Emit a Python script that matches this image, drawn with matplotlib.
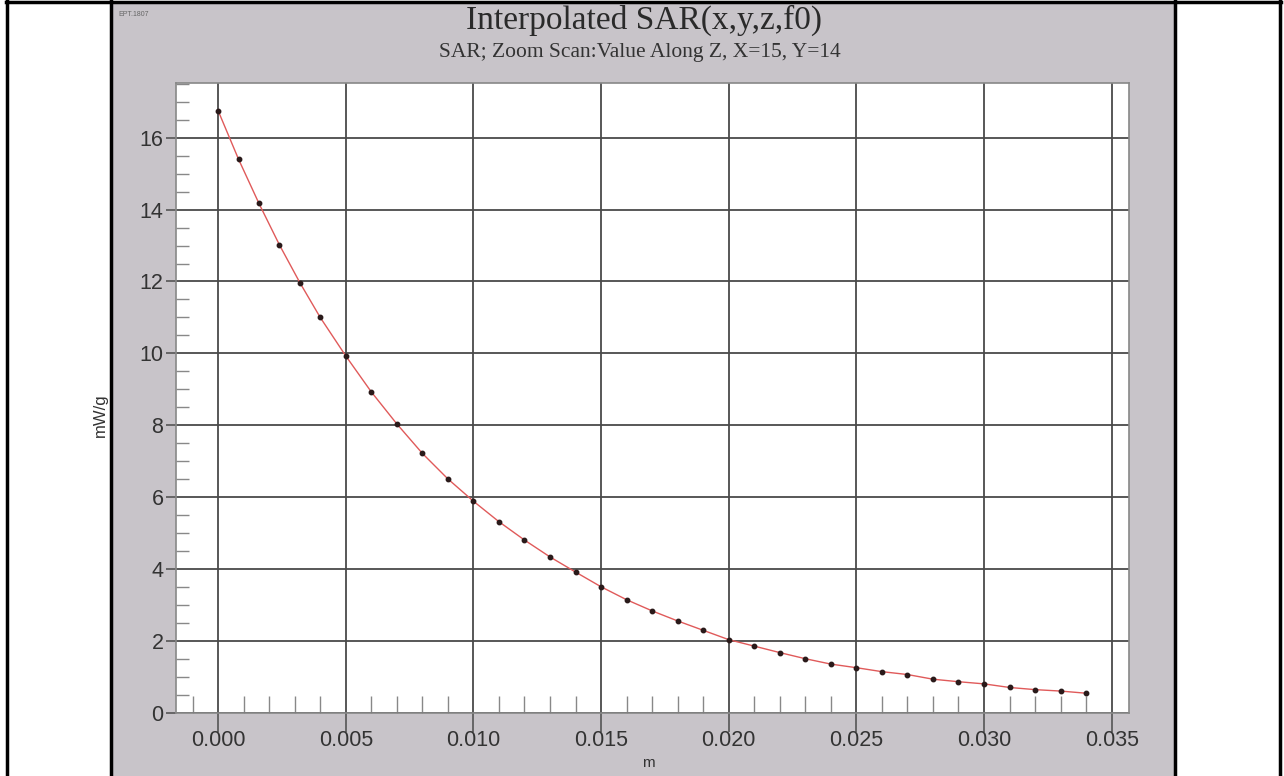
import numpy as np
import matplotlib
matplotlib.use("Agg")
import matplotlib.pyplot as plt
from matplotlib.patches import Rectangle
from matplotlib.lines import Line2D
from matplotlib.ticker import MultipleLocator, FormatStrFormatter

# depth along Z (m) and interpolated SAR (mW/g)
z_m = [0.0, 0.0008, 0.0016, 0.0024, 0.0032, 0.004,
       0.005, 0.006, 0.007, 0.008, 0.009, 0.010, 0.011, 0.012, 0.013, 0.014,
       0.015, 0.016, 0.017, 0.018, 0.019, 0.020, 0.021, 0.022, 0.023, 0.024,
       0.025, 0.026, 0.027, 0.028, 0.029, 0.030, 0.031, 0.032, 0.033, 0.034]
sar = [16.75, 15.40, 14.17, 13.02, 11.97, 11.00,
       9.93, 8.93, 8.04, 7.22, 6.51, 5.89, 5.32, 4.81, 4.34, 3.92,
       3.51, 3.15, 2.84, 2.56, 2.30, 2.04, 1.86, 1.68, 1.51, 1.36,
       1.26, 1.15, 1.07, 0.94, 0.87, 0.81, 0.71, 0.65, 0.61, 0.55]
x_ticks = [0.000, 0.005, 0.010, 0.015, 0.020, 0.025, 0.030, 0.035]
y_ticks = [0, 2, 4, 6, 8, 10, 12, 14, 16]

W, H = 1284, 776
fig = plt.figure(figsize=(W / 100, H / 100), dpi=100, facecolor="white")

def fx(px):
    return px / W

def fy(py):
    return 1 - py / H

# grey panel and black frame lines
fig.add_artist(Rectangle((fx(112), 0), fx(1175) - fx(112), fy(2), transform=fig.transFigure,
                         facecolor="#c8c4c9", edgecolor="none", zorder=0))
for xpx in [7, 111, 1175, 1280]:
    fig.add_artist(Line2D([fx(xpx), fx(xpx)], [0, fy(1)], transform=fig.transFigure,
                          color="black", lw=2.5))
fig.add_artist(Line2D([fx(6), fx(1281)], [fy(1.5), fy(1.5)], transform=fig.transFigure,
                      color="black", lw=2.5))

ax = fig.add_axes([fx(176), fy(713), fx(1129) - fx(176), fy(83) - fy(713)])
ax.set_facecolor("white")
ax.plot(z_m, sar, color="#e05a5a", lw=1.0, zorder=3)
ax.plot(z_m, sar, "o", color="#2a1a1a", ms=3.2, zorder=4)

ax.set_xlim(-0.00165, 0.03568)
ax.set_ylim(0, 17.52)
ax.set_xticks(x_ticks)
ax.set_yticks(y_ticks)
ax.xaxis.set_major_formatter(FormatStrFormatter("%.3f"))
ax.xaxis.set_minor_locator(MultipleLocator(0.001))
ax.yaxis.set_minor_locator(MultipleLocator(0.5))
ax.grid(True, which="major", color="#4a4a4a", lw=1.3)
ax.set_axisbelow(True)

ax.tick_params(axis="x", which="major", direction="out", length=14, width=1.2, color="#555555",
               labelsize=15.5, labelcolor="#333333", pad=-2)
ax.tick_params(axis="y", which="major", direction="out", length=7, width=1.2, color="#555555",
               labelsize=15.5, labelcolor="#333333", pad=2)
ax.tick_params(axis="x", which="minor", direction="in", length=12, width=1.0, color="#888888")
ax.tick_params(axis="y", which="minor", direction="in", length=9, width=1.0, color="#888888")
for s in ax.spines.values():
    s.set_color("#888888")
    s.set_linewidth(1.2)
for lab in ax.get_xticklabels() + ax.get_yticklabels():
    lab.set_family("Liberation Sans")

fig.text(fx(648), fy(763), "m", ha="center", va="center", fontsize=11,
         family="Liberation Sans", color="#333333")
fig.text(fx(100), fy(415), "mW/g", ha="center", va="center", rotation=90, fontsize=12,
         family="Liberation Sans", color="#333333")

fig.text(fx(644), fy(20), "Interpolated SAR(x,y,z,f0)", ha="center", va="center",
         fontsize=24, family="Liberation Serif", color="#2a2a2a")
fig.text(fx(640), fy(53), "SAR; Zoom Scan:Value Along Z, X=15, Y=14", ha="center", va="center",
         fontsize=15.5, family="Liberation Serif", color="#333333")
fig.text(fx(118), fy(14), "EPT.1807", ha="left", va="center", fontsize=5,
         family="Liberation Sans", color="#666666")

fig.savefig("out.png", dpi=100, facecolor="white")
